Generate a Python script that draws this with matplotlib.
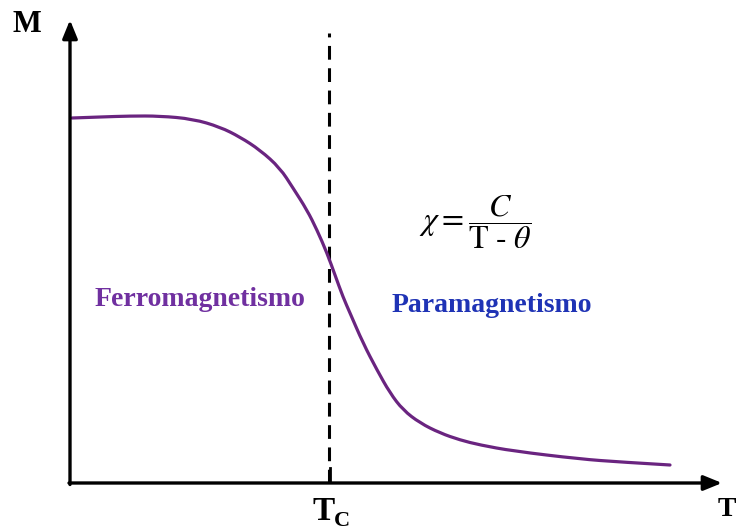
import matplotlib
matplotlib.use("Agg")
import matplotlib.pyplot as plt
from matplotlib.path import Path
from matplotlib.patches import PathPatch

# Magnetization curve (T, M) in chart units
temperature = [2, 30, 60, 90, 123, 150, 170, 190, 210, 223, 237, 247, 257, 265, 273, 280, 293,
               307, 320, 333, 350, 370, 390, 410, 443, 510, 550, 600]
magnetization = [365, 366, 367, 367, 364, 356, 346, 333, 315, 295, 273, 253, 230, 208, 186, 170, 140,
                 113, 90, 73, 60, 50, 43, 38, 32, 24, 21, 18]
curie_T = 260
x_label = "T"
y_label = "M"
tc_label = ("T", "C")
ferro_label = "Ferromagnetismo"
para_label = "Paramagnetismo"
formula = r"$\chi = \dfrac{C}{\mathrm{T}\ \text{-}\ \theta}$"

plt.rcParams["mathtext.fontset"] = "stix"
serif = "Liberation Serif"

fig = plt.figure(figsize=(7.36, 5.31), dpi=100)
ax = fig.add_axes([0, 0, 1, 1])
ax.set_xlim(-70, 666)
ax.set_ylim(-48, 483)
ax.axis("off")

purple_line = "#6a2480"
# smooth curve through the read points using quadratic Bezier segments
pts = list(zip(temperature, magnetization))
verts = [pts[0]]
codes = [Path.MOVETO]
for i in range(1, len(pts) - 1):
    mid = ((pts[i][0] + pts[i + 1][0]) / 2, (pts[i][1] + pts[i + 1][1]) / 2)
    if i == len(pts) - 2:
        mid = pts[-1]
    verts += [pts[i], mid]
    codes += [Path.CURVE3, Path.CURVE3]
ax.add_patch(PathPatch(Path(verts, codes), facecolor="none", edgecolor=purple_line,
                       lw=2.3, capstyle="round", zorder=3))

# axes with arrows
ax.annotate("", xy=(652, 0), xytext=(-1, 0),
            arrowprops=dict(arrowstyle="-|>,head_length=1.1,head_width=0.45", lw=2.4, color="black",
                            shrinkA=0, shrinkB=0), zorder=4)
ax.annotate("", xy=(0, 463), xytext=(0, -1.5),
            arrowprops=dict(arrowstyle="-|>,head_length=1.1,head_width=0.45", lw=2.4, color="black",
                            shrinkA=0, shrinkB=0), zorder=4)

# Curie temperature dashed line and tick
ax.plot([curie_T - 1, curie_T - 1], [0, 450], color="black", lw=2.2, ls=(0, (4.5, 2.8)), zorder=2)
ax.plot([curie_T, curie_T], [1, 15], color="black", lw=2.0, zorder=2)

# labels
ax.text(-43, 458, y_label, fontfamily=serif, fontweight="bold", fontsize=22, ha="center", va="center")
ax.text(657, -27, x_label, fontfamily=serif, fontweight="bold", fontsize=20, ha="center", va="center")
ax.text(254, -29, tc_label[0], fontfamily=serif, fontweight="bold", fontsize=24, ha="center", va="center")
ax.text(272, -38, tc_label[1], fontfamily=serif, fontweight="bold", fontsize=16, ha="center", va="center")

ax.text(130, 183, ferro_label, fontfamily=serif, fontweight="bold", fontsize=20,
        color="#7030a0", ha="center", va="center")
ax.text(422, 178, para_label, fontfamily=serif, fontweight="bold", fontsize=20,
        color="#1f33b5", ha="center", va="center")

ax.text(405, 261, formula, fontsize=23, ha="center", va="center")

fig.savefig("out.png", dpi=100)
